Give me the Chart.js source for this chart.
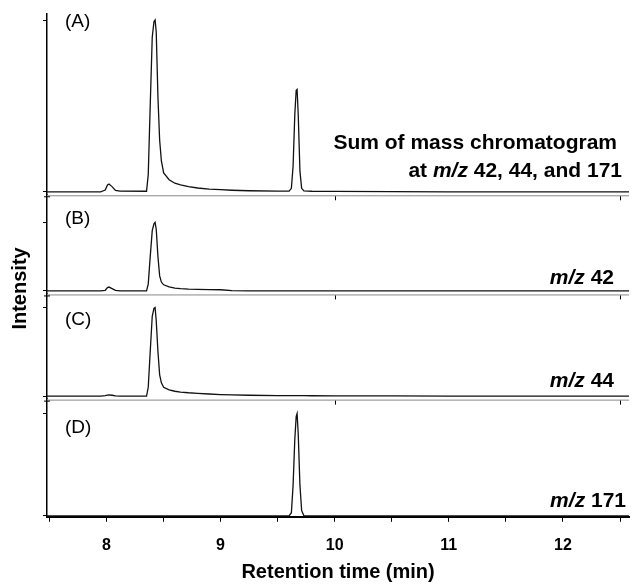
<!DOCTYPE html>
<html><head><meta charset="utf-8">
<script src="https://cdn.jsdelivr.net/npm/chart.js@4/dist/chart.umd.min.js"></script>
<style>html,body{margin:0;padding:0;background:#fff}#wrap{width:634px;height:588px;position:relative}</style>
</head><body><div id="wrap"><canvas id="c"></canvas></div>
<script>
// ---- data (retention time in min, relative intensity per panel) ----
const times = [7.48, 7.95, 7.99, 8.01, 8.023, 8.05, 8.08, 8.12, 8.352, 8.367, 8.382, 8.402, 8.417, 8.427, 8.437, 8.452, 8.467, 8.482, 8.502, 8.55, 8.60, 8.65, 8.72, 8.80, 8.90, 9.00, 9.10, 9.25, 9.50, 9.601, 9.621, 9.636, 9.651, 9.663, 9.671, 9.681, 9.696, 9.711, 9.731, 9.80, 10.00, 10.50, 11.00, 11.50, 12.00, 12.58];
const sumIons = [0, 0, 0.01, 0.04, 0.045, 0.03, 0.008, 0.004, 0.003, 0.1, 0.45, 0.9, 0.99, 1.0, 0.93, 0.55, 0.3, 0.18, 0.11, 0.07, 0.05, 0.04, 0.03, 0.022, 0.016, 0.012, 0.009, 0.006, 0.004, 0.004, 0.02, 0.15, 0.45, 0.59, 0.596, 0.45, 0.12, 0.02, 0.005, 0.003, 0.002, 0.001, 0, 0, 0, 0];
const mz42 = [0, 0, 0.01, 0.05, 0.057, 0.035, 0.01, 0, 0, 0.1, 0.45, 0.88, 0.98, 1.0, 0.9, 0.5, 0.22, 0.13, 0.09, 0.06, 0.04, 0.033, 0.027, 0.024, 0.021, 0.018, 0.004, 0, 0, 0, 0, 0, 0, 0, 0, 0, 0, 0, 0, 0, 0, 0, 0, 0, 0, 0];
const mz44 = [0, 0, 0.005, 0.012, 0.014, 0.01, 0.004, 0, 0, 0.1, 0.45, 0.9, 0.99, 1.0, 0.85, 0.5, 0.24, 0.15, 0.1, 0.07, 0.055, 0.046, 0.038, 0.032, 0.024, 0.018, 0.014, 0.01, 0.006, 0.005, 0.005, 0.005, 0.005, 0.005, 0.005, 0.005, 0.005, 0.005, 0.005, 0.004, 0.003, 0.002, 0.001, 0, 0, 0];
const mz171 = [0, 0, 0, 0, 0, 0, 0, 0, 0, 0, 0, 0, 0, 0, 0, 0, 0, 0, 0, 0, 0, 0, 0, 0, 0, 0, 0, 0, 0, 0, 0.03, 0.3, 0.75, 0.97, 1.0, 0.8, 0.3, 0.05, 0, 0, 0, 0, 0, 0, 0, 0];
const xTickValues = [7.5, 8, 8.5, 9, 9.5, 10, 10.5, 11, 11.5, 12, 12.5];
const yTickValues = [0, 1];
const panelLetters = ['(A)', '(B)', '(C)', '(D)'];
const panelNotes = [
  [[['Sum of mass chromatogram', false]], [['at ', false], ['m/z', true], [' 42, 44, and 171', false]]],
  [[['m/z', true], [' 42', false]]],
  [[['m/z', true], [' 44', false]]],
  [[['m/z', true], [' 171', false]]]
];
const xTitle = 'Retention time (min)';
const yTitle = 'Intensity';

// ---- layout / style ----
const FONT = '"Liberation Sans", Arial, Helvetica, sans-serif';
const panelIds = ['yA', 'yB', 'yC', 'yD'];
const panelRange = [[-0.0146, 1.035], [-0.036, 1.409], [-0.028, 1.158], [-0.0098, 1.147]];
const panelWeight = [180, 99, 105, 118];
const letterDY = [8, 24, 26, 29];
const noteRight = [[617, 622], [614], [614], [626]];
const noteDY = [[-51, -23], [-15], [-17], [-16]];
const seriesList = [sumIons, mz42, mz44, mz171];

function yScale(i) {
  return {
    type: 'linear', position: 'left', stack: 'panels', stackWeight: panelWeight[i], weight: 4 - i,
    min: panelRange[i][0], max: panelRange[i][1],
    afterBuildTicks: s => { s.ticks = yTickValues.map(v => ({ value: v })); },
    ticks: { display: false },
    grid: { drawOnChartArea: false, drawTicks: true, tickLength: 4, color: '#000', lineWidth: 1 },
    border: { display: true, color: '#000', width: 1.5 }
  };
}

const scales = {
  x: {
    type: 'linear', position: 'bottom', min: 7.48, max: 12.58,
    afterBuildTicks: s => { s.ticks = xTickValues.map(v => ({ value: v })); },
    ticks: { autoSkip: false, maxRotation: 0, padding: 14, color: '#000',
      font: { family: FONT, size: 16, weight: 'bold' },
      callback: v => Number.isInteger(v) ? String(v) : '' },
    grid: { drawOnChartArea: false, tickLength: 5, color: '#000', lineWidth: 1 },
    border: { color: '#000', width: 2 },
    title: { display: true, text: xTitle, color: '#000', font: { family: FONT, size: 20, weight: 'bold' }, padding: { top: -9, bottom: 0 } }
  }
};
panelIds.forEach((id, i) => { scales[id] = yScale(i); });

const datasets = seriesList.map((arr, i) => ({
  data: times.map((t, k) => ({ x: t, y: arr[k] })),
  yAxisID: panelIds[i],
  borderColor: '#111', borderWidth: 1.3, pointRadius: 0, tension: 0, fill: false
}));

const annot = {
  id: 'annot',
  afterDraw(chart) {
    const ctx = chart.ctx;
    const xs = chart.scales.x;
    ctx.save();
    ctx.fillStyle = '#000';
    const yB = chart.scales.yB;
    ctx.save();
    ctx.translate(20, yB.bottom - 5);
    ctx.rotate(-Math.PI / 2);
    ctx.font = 'bold 20px ' + FONT;
    ctx.textAlign = 'center'; ctx.textBaseline = 'middle';
    ctx.fillText(yTitle, 0, 0);
    ctx.restore();
    panelIds.forEach((id, i) => {
      const s = chart.scales[id];
      ctx.font = '19px ' + FONT;
      ctx.textAlign = 'left'; ctx.textBaseline = 'middle';
      ctx.fillText(panelLetters[i], 65, s.top + letterDY[i]);
      panelNotes[i].forEach((line, j) => {
        const fonts = line.map(seg => (seg[1] ? 'italic bold 21px ' : 'bold 21px ') + FONT);
        let w = 0;
        line.forEach((seg, k) => { ctx.font = fonts[k]; w += ctx.measureText(seg[0]).width; });
        let x = noteRight[i][j] - w;
        const y = s.bottom + noteDY[i][j];
        line.forEach((seg, k) => { ctx.font = fonts[k]; ctx.fillText(seg[0], x, y); x += ctx.measureText(seg[0]).width; });
      });
      if (i > 0) {
        ctx.strokeStyle = '#888'; ctx.lineWidth = 1;
        ctx.beginPath(); ctx.moveTo(chart.chartArea.left, s.top + 1.5); ctx.lineTo(chart.chartArea.right, s.top + 1.5); ctx.stroke();
        ctx.strokeStyle = '#000';
        [10, 12.5].forEach(v => {
          const px = Math.round(xs.getPixelForValue(v)) + 0.5;
          ctx.beginPath(); ctx.moveTo(px, s.top + 2); ctx.lineTo(px, s.top + 6); ctx.stroke();
        });
        ctx.beginPath(); ctx.moveTo(chart.chartArea.left - 3, s.top + 2.5); ctx.lineTo(chart.chartArea.left + 3, s.top + 2.5); ctx.stroke();
      }
    });
    ctx.restore();
  }
};

new Chart(document.getElementById('c'), {
  type: 'line',
  data: { datasets },
  options: {
    responsive: true, maintainAspectRatio: false, animation: false,
    layout: { padding: { left: 43, top: 14, right: 0, bottom: 4 } },
    plugins: { legend: { display: false }, tooltip: { enabled: false } },
    scales
  },
  plugins: [annot]
});
</script></body></html>
